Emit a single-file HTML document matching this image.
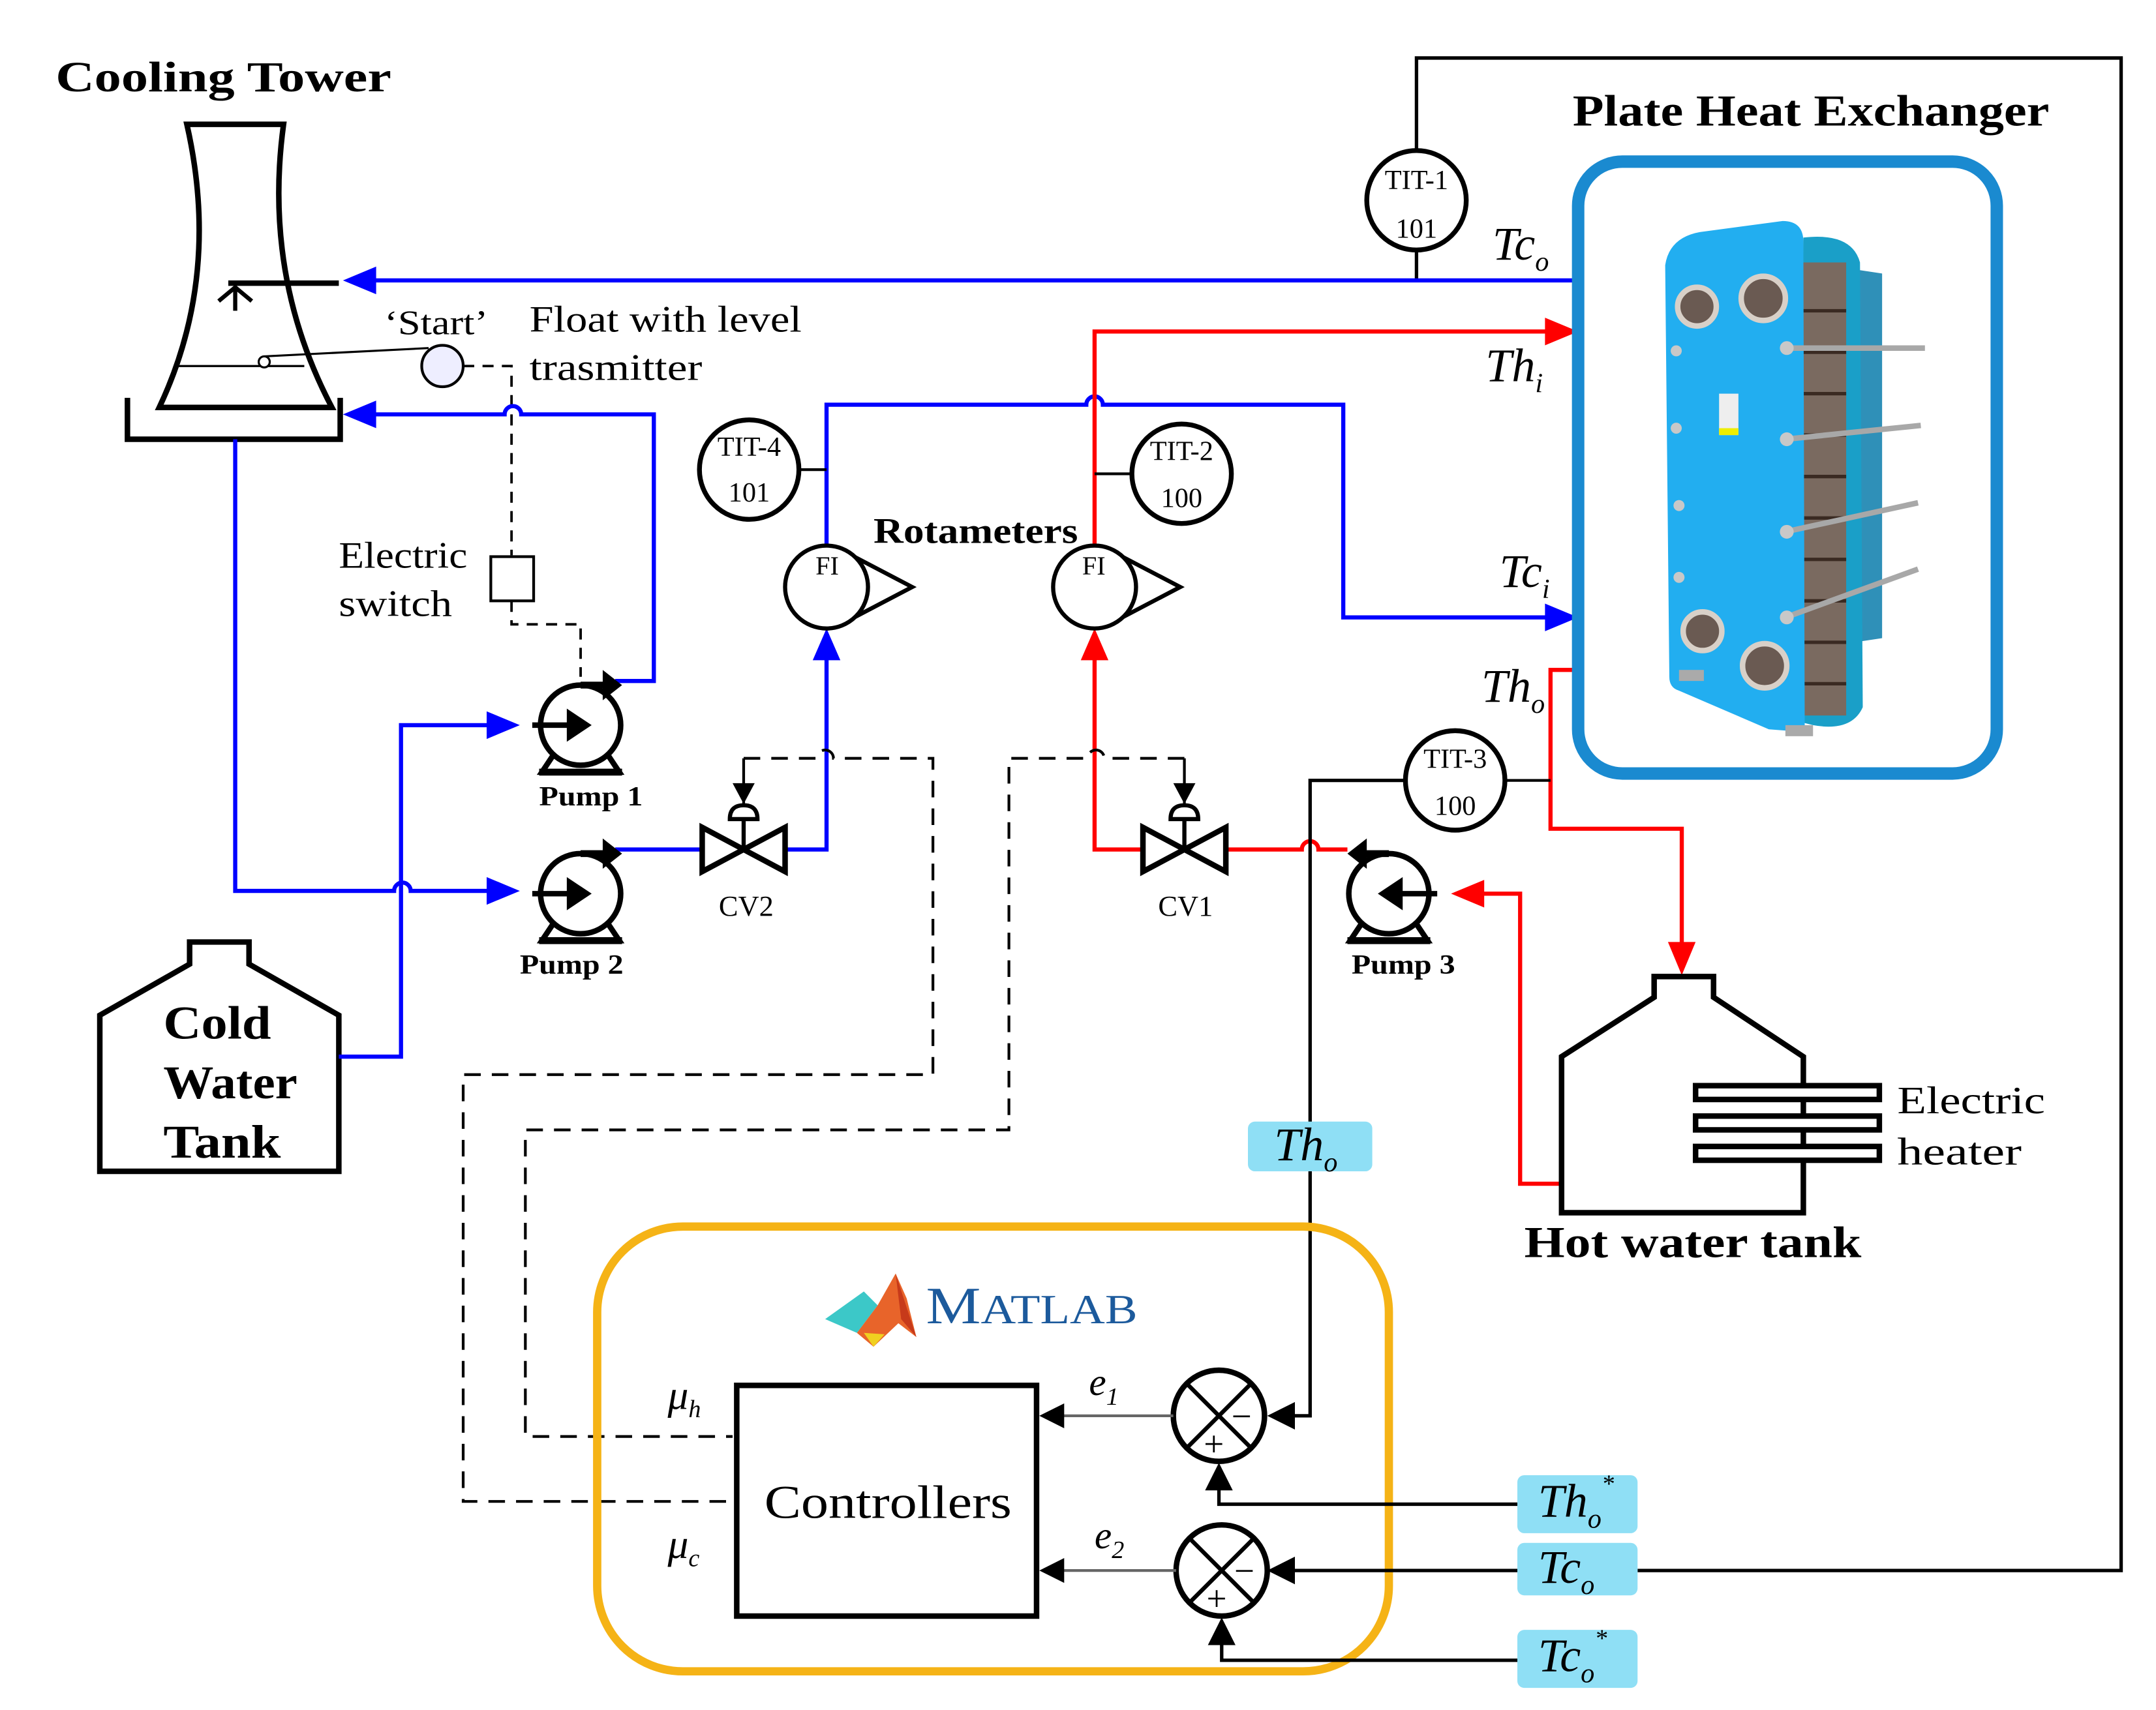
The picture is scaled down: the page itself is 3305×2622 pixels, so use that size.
<!DOCTYPE html>
<html><head><meta charset="utf-8"><style>
html,body{margin:0;padding:0;background:#fff}
svg{display:block}
text{font-family:"Liberation Serif",serif}
</style></head><body>
<svg width="3305" height="2622" viewBox="0 0 1560 1238" xmlns="http://www.w3.org/2000/svg">
<defs>
<g id="pump">
<circle cx="0" cy="0" r="29" fill="#fff" stroke="#000" stroke-width="4"/>
<line x1="-35" y1="0" x2="-5" y2="0" stroke="#000" stroke-width="4"/>
<polygon points="-10,-12 8,0 -10,12" fill="#000"/>
<path d="M0,-29 L22,-29" stroke="#000" stroke-width="5"/>
<polygon points="16,-40 30,-29 16,-18" fill="#000"/>
<path d="M-20,22 L-28,34 L28,34 L20,22" fill="none" stroke="#000" stroke-width="4"/>
<line x1="-30" y1="34" x2="30" y2="34" stroke="#000" stroke-width="5"/>
</g>
<g id="valve">
<polygon points="-30,-16 30,16 30,-16 -30,16" fill="#fff" stroke="#000" stroke-width="4"/>
<line x1="0" y1="0" x2="0" y2="-22" stroke="#000" stroke-width="3"/>
<path d="M-10,-22 Q-10,-32 0,-32 Q10,-32 10,-22 Z" fill="#fff" stroke="#000" stroke-width="3"/>
<line x1="0" y1="-32" x2="0" y2="-66" stroke="#000" stroke-width="2"/>
<polygon points="-8,-48 8,-48 0,-33" fill="#000"/>
</g>
<g id="fi">
<polygon points="20,-22 62,0 20,22" fill="#fff" stroke="#000" stroke-width="3"/>
<circle cx="0" cy="0" r="30" fill="#fff" stroke="#000" stroke-width="3"/>
</g>
<g id="sum">
<circle cx="0" cy="0" r="33" fill="#fff" stroke="#000" stroke-width="4"/>
<line x1="-23" y1="-23" x2="23" y2="23" stroke="#000" stroke-width="3"/>
<line x1="23" y1="-23" x2="-23" y2="23" stroke="#000" stroke-width="3"/>
</g>
</defs>

<polyline points="1025,110 1025,42 1535,42 1535,1137 1185,1137" fill="none" stroke="#000" stroke-width="2.5"/>
<line x1="1025" y1="181" x2="1025" y2="203" stroke="#000" stroke-width="2.5"/>

<!-- Cooling tower -->
<text x="40" y="66" font-size="31" font-weight="bold" textLength="243" lengthAdjust="spacingAndGlyphs">Cooling Tower</text>
<path d="M135,90 L205,90 Q190,200 240,295 L115,295 Q160,200 135,90 Z" fill="#fff" stroke="#000" stroke-width="4"/>
<polyline points="92,288 92,318 246,318 246,288" fill="none" stroke="#000" stroke-width="4"/>
<line x1="165" y1="205" x2="245" y2="205" stroke="#000" stroke-width="4"/>
<line x1="170" y1="208" x2="170" y2="225" stroke="#000" stroke-width="3"/>
<path d="M158,218 L170,208 L182,218" fill="none" stroke="#000" stroke-width="3"/>
<line x1="128" y1="265" x2="220" y2="265" stroke="#000" stroke-width="1.5"/>
<circle cx="191" cy="262" r="4" fill="#fff" stroke="#000" stroke-width="1.5"/>
<line x1="191" y1="258" x2="310" y2="252" stroke="#000" stroke-width="1.5"/>
<circle cx="320" cy="265" r="15" fill="#eef" stroke="#000" stroke-width="2"/>
<text x="278" y="242" font-size="25" textLength="75" lengthAdjust="spacingAndGlyphs">‘Start’</text>
<text x="383" y="240" font-size="27" textLength="197" lengthAdjust="spacingAndGlyphs">Float with level</text>
<text x="383" y="275" font-size="27" textLength="125" lengthAdjust="spacingAndGlyphs">trasmitter</text>
<path d="M335,265 L370,265 L370,402" fill="none" stroke="#000" stroke-width="1.8" stroke-dasharray="8,6"/>
<rect x="355" y="403" width="31" height="32" fill="#fff" stroke="#000" stroke-width="2"/>
<path d="M370,435 L370,452 L420,452 L420,490" fill="none" stroke="#000" stroke-width="1.8" stroke-dasharray="8,6"/>
<text x="245" y="411" font-size="27" textLength="93" lengthAdjust="spacingAndGlyphs">Electric</text>
<text x="245" y="446" font-size="27" textLength="82" lengthAdjust="spacingAndGlyphs">switch</text>

<!-- Cold water tank -->
<polygon points="72,848 72,735 137,698 137,682 180,682 180,698 245,735 245,848" fill="#fff" stroke="#000" stroke-width="4"/>
<text x="118" y="752" font-size="34" font-weight="bold" textLength="78" lengthAdjust="spacingAndGlyphs">Cold</text>
<text x="118" y="795" font-size="34" font-weight="bold" textLength="97" lengthAdjust="spacingAndGlyphs">Water</text>
<text x="118" y="838" font-size="34" font-weight="bold" textLength="85" lengthAdjust="spacingAndGlyphs">Tank</text>

<!-- blue lines -->
<g fill="none" stroke="#0000ff" stroke-width="3">
<line x1="1142" y1="203" x2="265" y2="203"/>
<path d="M445,493 L473,493 L473,300 L377,300 A6,6 0 0 0 365,300 L265,300"/>
<path d="M170,318 L170,645 L285,645 A6,6 0 0 1 297,645 L360,645"/>
<path d="M245,765 L290,765 L290,525 L360,525"/>
<path d="M445,615 L508,615 M568,615 L598,615 L598,470"/>
<path d="M598,395 L598,293 L786,293 A6,6 0 0 1 798,293 L972,293 L972,447 L1125,447"/>
</g>
<g fill="#0000ff">
<polygon points="248,203 272,193 272,213"/>
<polygon points="248,300 272,290 272,310"/>
<polygon points="376,645 352,635 352,655"/>
<polygon points="376,525 352,515 352,535"/>
<polygon points="598,455 588,478 608,478"/>
<polygon points="1142,447 1118,437 1118,457"/>
</g>

<!-- red lines -->
<g fill="none" stroke="#ff0000" stroke-width="3">
<path d="M792,395 L792,240 L1125,240"/>
<path d="M792,470 L792,615 L828,615 M886,615 L942,615 A6,6 0 0 1 954,615 L975,615"/>
<path d="M1065,647 L1100,647 L1100,857 L1130,857"/>
<path d="M1140,485 L1122,485 L1122,600 L1217,600 L1217,690"/>
</g>
<g fill="#ff0000">
<polygon points="1142,240 1118,230 1118,250"/>
<polygon points="792,455 782,478 802,478"/>
<polygon points="1050,647 1074,637 1074,657"/>
<polygon points="1217,706 1207,682 1227,682"/>
</g>

<use href="#pump" x="420" y="525"/>
<use href="#pump" x="420" y="647"/>
<use href="#pump" transform="translate(1005,647) scale(-1,1)"/>
<text x="390" y="583" font-size="20" font-weight="bold" textLength="75" lengthAdjust="spacingAndGlyphs">Pump 1</text>
<text x="376" y="705" font-size="20" font-weight="bold" textLength="75" lengthAdjust="spacingAndGlyphs">Pump 2</text>
<text x="978" y="705" font-size="20" font-weight="bold" textLength="75" lengthAdjust="spacingAndGlyphs">Pump 3</text>

<use href="#valve" x="538" y="615"/>
<use href="#valve" x="857" y="615"/>
<text x="520" y="663" font-size="21">CV2</text>
<text x="838" y="663" font-size="21">CV1</text>

<g fill="none" stroke="#000" stroke-width="2" stroke-dasharray="12,8">
<path d="M538,549 L591,549 A6,6 0 0 1 603,549 L675,549 L675,778 L335,778 L335,1087 L530,1087"/>
<path d="M857,549 L799,549 A6,6 0 0 0 787,549 L730,549 L730,818 L380,818 L380,1040 L530,1040"/>
</g>

<use href="#fi" x="598" y="425"/>
<use href="#fi" x="792" y="425"/>
<text x="590" y="416" font-size="19">FI</text>
<text x="783" y="416" font-size="19">FI</text>
<text x="632" y="393" font-size="26" font-weight="bold" textLength="148" lengthAdjust="spacingAndGlyphs">Rotameters</text>

<line x1="578" y1="340" x2="598" y2="340" stroke="#000" stroke-width="2"/>
<line x1="792" y1="343" x2="819" y2="343" stroke="#000" stroke-width="2"/>
<line x1="1089" y1="565" x2="1122" y2="565" stroke="#000" stroke-width="2"/>
<polyline points="1017,565 948,565 948,1025 935,1025" fill="none" stroke="#000" stroke-width="2.5"/>
<polygon points="917,1025 937,1015 937,1035" fill="#000"/>
<g fill="#fff" stroke="#000" stroke-width="3.5">
<circle cx="1025" cy="145" r="36"/>
<circle cx="542" cy="340" r="36"/>
<circle cx="855" cy="343" r="36"/>
<circle cx="1053" cy="565" r="36"/>
</g>
<g font-size="20" text-anchor="middle">
<text x="1025" y="137">TIT-1</text><text x="1025" y="172">101</text>
<text x="542" y="330">TIT-4</text><text x="542" y="363">101</text>
<text x="855" y="333">TIT-2</text><text x="855" y="367">100</text>
<text x="1053" y="556">TIT-3</text><text x="1053" y="590">100</text>
</g>

<!-- PHE -->
<text x="1138" y="91" font-size="32" font-weight="bold" textLength="345" lengthAdjust="spacingAndGlyphs">Plate Heat Exchanger</text>
<rect x="1142" y="117" width="303" height="443" rx="32" fill="#fff" stroke="#1a8ad0" stroke-width="9"/>
<g>
<path d="M1342,195 L1362,198 L1362,462 L1342,465 Z" fill="#2f90b8"/>
<path d="M1305,172 Q1340,168 1346,190 L1348,512 Q1340,530 1312,525 L1300,522 Z" fill="#1a9fc8"/>
<rect x="1300" y="190" width="36" height="328" fill="#7a6a60"/>
<g stroke="#3a2a22" stroke-width="2.5">
<line x1="1300" y1="225" x2="1336" y2="225"/><line x1="1300" y1="255" x2="1336" y2="255"/>
<line x1="1300" y1="285" x2="1336" y2="285"/><line x1="1300" y1="315" x2="1336" y2="315"/>
<line x1="1300" y1="345" x2="1336" y2="345"/><line x1="1300" y1="375" x2="1336" y2="375"/>
<line x1="1300" y1="405" x2="1336" y2="405"/><line x1="1300" y1="435" x2="1336" y2="435"/>
<line x1="1300" y1="465" x2="1336" y2="465"/><line x1="1300" y1="495" x2="1336" y2="495"/>
</g>
<path d="M1205,192 Q1208,172 1230,168 L1290,160 Q1305,160 1305,175 L1306,530 L1280,528 L1215,500 Q1208,498 1208,490 Z" fill="#22aef0"/>
<circle cx="1228" cy="222" r="14" fill="#6a5a52" stroke="#d8d0c8" stroke-width="4"/>
<circle cx="1276" cy="216" r="16" fill="#6a5a52" stroke="#d8d0c8" stroke-width="4"/>
<circle cx="1232" cy="457" r="14" fill="#6a5a52" stroke="#d8d0c8" stroke-width="4"/>
<circle cx="1277" cy="482" r="16" fill="#6a5a52" stroke="#d8d0c8" stroke-width="4"/>
<g stroke="#a8a8a8" stroke-width="4">
<line x1="1292" y1="252" x2="1393" y2="252"/><line x1="1292" y1="318" x2="1390" y2="308"/>
<line x1="1292" y1="385" x2="1388" y2="364"/><line x1="1292" y1="447" x2="1388" y2="412"/>
</g>
<g fill="#c8c8c8"><circle cx="1293" cy="252" r="5"/><circle cx="1293" cy="318" r="5"/><circle cx="1293" cy="385" r="5"/><circle cx="1293" cy="447" r="5"/>
<circle cx="1213" cy="254" r="4"/><circle cx="1213" cy="310" r="4"/><circle cx="1215" cy="366" r="4"/><circle cx="1215" cy="418" r="4"/></g>
<rect x="1244" y="285" width="14" height="30" fill="#eee"/>
<rect x="1244" y="310" width="14" height="5" fill="#ee0"/>
<rect x="1215" y="485" width="18" height="8" fill="#aaa"/>
<rect x="1292" y="525" width="20" height="8" fill="#aaa"/>
</g>
<g font-size="34" font-style="italic">
<text x="1080" y="188">Tc<tspan font-size="20" dy="8">o</tspan></text>
<text x="1075" y="276">Th<tspan font-size="20" dy="8">i</tspan></text>
<text x="1085" y="425">Tc<tspan font-size="20" dy="8">i</tspan></text>
<text x="1072" y="508">Th<tspan font-size="20" dy="8">o</tspan></text>
</g>

<!-- Hot water tank -->
<polygon points="1130,878 1130,765 1197,722 1197,707 1240,707 1240,722 1305,765 1305,878" fill="#fff" stroke="#000" stroke-width="4"/>
<g fill="#fff" stroke="#000" stroke-width="4">
<rect x="1227" y="786" width="133" height="10"/>
<rect x="1227" y="808" width="133" height="10"/>
<rect x="1227" y="830" width="133" height="10"/>
</g>
<text x="1373" y="806" font-size="28" textLength="107" lengthAdjust="spacingAndGlyphs">Electric</text>
<text x="1373" y="843" font-size="28" textLength="90" lengthAdjust="spacingAndGlyphs">heater</text>
<text x="1103" y="910" font-size="32" font-weight="bold" textLength="244" lengthAdjust="spacingAndGlyphs">Hot water tank</text>

<rect x="903" y="812" width="90" height="36" rx="5" fill="#8fdff5"/>
<text x="922" y="840" font-size="34" font-style="italic">Th<tspan font-size="20" dy="8">o</tspan></text>

<!-- MATLAB box -->
<rect x="432" y="888" width="573" height="322" rx="62" fill="none" stroke="#f5b316" stroke-width="6"/>
<polygon points="597,955 625,935 635,945 620,965" fill="#3cc8c8"/>
<polygon points="620,965 635,945 648,922 656,940 663,968 650,958 632,975" fill="#e8642a"/>
<polygon points="648,922 663,968 652,955" fill="#c73a1a"/>
<polygon points="625,965 632,975 640,966" fill="#f0d020"/>
<text x="670" y="958" font-size="38" fill="#1c5a9c" textLength="153" lengthAdjust="spacingAndGlyphs">M<tspan font-size="30">ATLAB</tspan></text>

<rect x="533" y="1003" width="217" height="167" fill="#fff" stroke="#000" stroke-width="4"/>
<text x="553" y="1099" font-size="34" textLength="179" lengthAdjust="spacingAndGlyphs">Controllers</text>
<text x="483" y="1020" font-size="30" font-style="italic">μ<tspan font-size="18" dy="6">h</tspan></text>
<text x="483" y="1128" font-size="30" font-style="italic">μ<tspan font-size="18" dy="6">c</tspan></text>

<use href="#sum" x="882" y="1025"/>
<use href="#sum" x="884" y="1137"/>
<g font-size="26">
<text x="891" y="1034">−</text><text x="871" y="1054">+</text>
<text x="893" y="1146">−</text><text x="873" y="1166">+</text>
</g>
<line x1="849" y1="1025" x2="765" y2="1025" stroke="#666" stroke-width="2"/>
<polygon points="752,1025 770,1016 770,1034" fill="#000"/>
<line x1="851" y1="1137" x2="765" y2="1137" stroke="#666" stroke-width="2"/>
<polygon points="752,1137 770,1128 770,1146" fill="#000"/>
<text x="788" y="1010" font-size="28" font-style="italic">e<tspan font-size="18" dy="7">1</tspan></text>
<text x="792" y="1121" font-size="28" font-style="italic">e<tspan font-size="18" dy="7">2</tspan></text>

<g fill="none" stroke="#000" stroke-width="2.5">
<polyline points="1098,1089 882,1089 882,1075"/>
<line x1="1098" y1="1137" x2="935" y2="1137"/>
<polyline points="1098,1202 884,1202 884,1188"/>
</g>
<polygon points="882,1059 872,1079 892,1079" fill="#000"/>
<polygon points="917,1137 937,1127 937,1147" fill="#000"/>
<polygon points="884,1171 874,1191 894,1191" fill="#000"/>

<g fill="#8fdff5">
<rect x="1098" y="1068" width="87" height="42" rx="5"/>
<rect x="1098" y="1117" width="87" height="38" rx="5"/>
<rect x="1098" y="1180" width="87" height="42" rx="5"/>
</g>
<g font-size="34" font-style="italic">
<text x="1113" y="1098">Th<tspan font-size="20" dy="8">o</tspan><tspan font-size="18" dy="-26">*</tspan></text>
<text x="1113" y="1146">Tc<tspan font-size="20" dy="8">o</tspan></text>
<text x="1113" y="1210">Tc<tspan font-size="20" dy="8">o</tspan><tspan font-size="18" dy="-26">*</tspan></text>
</g>
</svg>
</body></html>
